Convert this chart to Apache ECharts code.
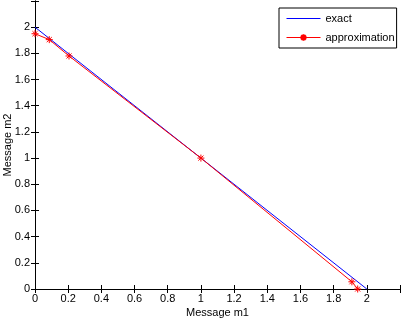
<!DOCTYPE html>
<html>
<head>
<meta charset="utf-8">
<script src="https://cdn.jsdelivr.net/npm/echarts@6/dist/echarts.min.js"></script>
<style>html,body{margin:0;padding:0;background:#fff}#c{width:401px;height:319px}</style>
</head>
<body>
<div id="c"></div>
<script>
var exactX = [0, 2];
var exactY = [2, 0];
var approxX = [0, 0.086, 0.205, 1, 1.91, 1.945];
var approxY = [1.95, 1.905, 1.78, 1.0, 0.055, 0.0];
var xTicks = [0, 0.2, 0.4, 0.6, 0.8, 1, 1.2, 1.4, 1.6, 1.8, 2];
var yTicks = [0, 0.2, 0.4, 0.6, 0.8, 1, 1.2, 1.4, 1.6, 1.8, 2];

function pairs(xs, ys) { return xs.map(function (x, i) { return [x, ys[i]]; }); }
function pick(list, v) {
  var r = Math.round(v * 10) / 10;
  for (var i = 0; i < list.length; i++) if (Math.abs(list[i] - r) < 1e-9) return String(list[i]);
  return '';
}
var font = 'Liberation Sans';
var star = 'path://M0,-5L0,5M-5,0L5,0M-3.6,-3.6L3.6,3.6M-3.6,3.6L3.6,-3.6';
var axisCommon = {
  type: 'value', min: 0, max: 2.2, interval: 0.2,
  axisLine: { show: true, lineStyle: { color: '#000', width: 1 } },
  axisTick: { show: true, inside: true, length: 4, lineStyle: { color: '#000' } },
  splitLine: { show: false }
};
var chart = echarts.init(document.getElementById('c'), null, { renderer: 'canvas' });
chart.setOption({
  animation: false,
  backgroundColor: '#fff',
  grid: { left: 35, right: 1, top: 1, bottom: 30, containLabel: false, outerBoundsMode: 'none' },
  legend: {
    orient: 'vertical', left: 279, top: 8,
    padding: [5, 2, 5, 7], itemGap: 8, itemWidth: 34, itemHeight: 8,
    backgroundColor: '#fff', borderColor: '#000', borderWidth: 1, borderRadius: 0,
    lineStyle: { width: 1 },
    textStyle: { fontFamily: font, fontSize: 11, color: '#000' },
    data: ['exact', 'approximation']
  },
  xAxis: [
    Object.assign({}, axisCommon, {
      position: 'bottom',
      name: 'Message m1', nameLocation: 'middle', nameGap: 18, nameMoveOverlap: false,
      nameTextStyle: { fontFamily: font, fontSize: 11, color: '#000' },
      axisLabel: { margin: 4, fontFamily: font, fontSize: 11, color: '#000', formatter: function (v) { return pick(xTicks, v); } }
    }),
    Object.assign({}, axisCommon, {
      position: 'top', axisLabel: { show: false }
    })
  ],
  yAxis: [
    Object.assign({}, axisCommon, {
      position: 'left',
      name: 'Message m2', nameLocation: 'middle', nameGap: 22, nameMoveOverlap: false,
      nameTextStyle: { fontFamily: font, fontSize: 11, color: '#000' },
      axisLabel: { margin: 5, fontFamily: font, fontSize: 11, color: '#000', formatter: function (v) { return pick(yTicks, v); } }
    }),
    Object.assign({}, axisCommon, {
      position: 'right', axisLabel: { show: false }
    })
  ],
  series: [
    {
      name: 'exact', type: 'line', data: pairs(exactX, exactY),
      showSymbol: false, symbol: 'circle', symbolSize: 1,
      lineStyle: { color: '#0000ff', width: 1 }, itemStyle: { color: 'rgba(0,0,0,0)', borderWidth: 0 }
    },
    {
      name: 'approximation', type: 'line', data: pairs(approxX, approxY),
      symbol: star, symbolSize: 7, symbolKeepAspect: true, showAllSymbol: true,
      lineStyle: { color: '#ff0000', width: 1 },
      itemStyle: { color: '#ff0000', borderColor: '#ff0000', borderWidth: 1 }
    }
  ]
});
</script>
</body>
</html>
